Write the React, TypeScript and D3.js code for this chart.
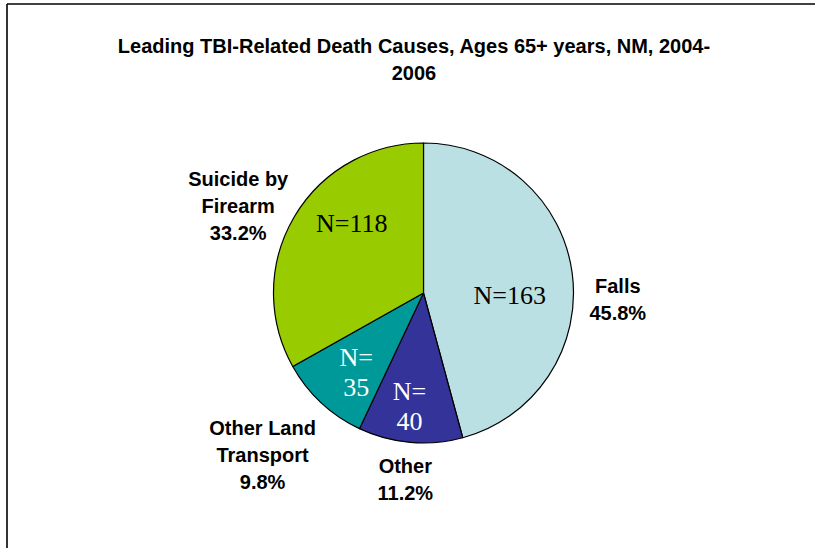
import React, { useRef, useEffect } from "react";
import * as d3 from "d3";

// chart data
const categories = ["Falls", "Other", "Other Land Transport", "Suicide by Firearm"];
const counts = [163, 40, 35, 118];
const percentLabels = ["45.8%", "11.2%", "9.8%", "33.2%"];
const outerLines = [["Falls"], ["Other"], ["Other Land", "Transport"], ["Suicide by", "Firearm"]];
const innerLines = [["N=163"], ["N=", "40"], ["N=", "35"], ["N=118"]];
const titleLines = ["Leading TBI-Related Death Causes, Ages 65+ years, NM, 2004-", "2006"];

const colors = ["#BBE0E3", "#333399", "#009999", "#99CC00"];
const innerTextColors = ["#000000", "#ffffff", "#ffffff", "#000000"];

// label placement tweaks (excel doesn't put them exactly on the centroid)
const innerNudge = [[-3, 14], [-6, 24], [-6, 14], [6, -24]];
const outerNudge = [[1, 32], [-1, -8], [-28, 19], [-17, 11]];

const W = 815;
const H = 548;

const App = () => {
  const ref = useRef<HTMLDivElement>(null);

  useEffect(() => {
    const root = d3.select(ref.current);
    root.select("svg").remove();

    const svg = root
      .append("svg")
      .attr("width", W)
      .attr("height", H)
      .style("position", "absolute")
      .style("left", "0px")
      .style("top", "0px")
      .style("background", "#ffffff");

    // frame (only top + left visible in the crop)
    svg.append("line").attr("x1", 7).attr("x2", W).attr("y1", 4).attr("y2", 4)
      .attr("stroke", "#000").attr("stroke-width", 1.6);
    svg.append("line").attr("x1", 7).attr("x2", 7).attr("y1", 4).attr("y2", H)
      .attr("stroke", "#000").attr("stroke-width", 1.6);

    const title = svg
      .append("text")
      .attr("text-anchor", "middle")
      .attr("font-family", "Liberation Sans, Arial, sans-serif")
      .attr("font-weight", "bold")
      .attr("font-size", 20)
      .attr("fill", "#000");
    titleLines.forEach((t, i) => {
      title.append("tspan").attr("x", 414).attr("y", 53 + i * 27).text(t);
    });

    const cx = 423.5;
    const cy = 293;
    const radius = 150;

    const g = svg.append("g").attr("transform", `translate(${cx},${cy})`);

    const pie = d3.pie<number>().sort(null).value((d) => d);
    const arcs = pie(counts);

    const arc = d3.arc<d3.PieArcDatum<number>>().innerRadius(0).outerRadius(radius);
    const innerArc = d3.arc<d3.PieArcDatum<number>>().innerRadius(radius * 0.6).outerRadius(radius * 0.6);
    const outerArc = d3.arc<d3.PieArcDatum<number>>().innerRadius(radius * 1.3).outerRadius(radius * 1.3);

    g.selectAll("path.slice")
      .data(arcs)
      .enter()
      .append("path")
      .attr("class", "slice")
      .attr("d", arc)
      .attr("fill", (d, i) => colors[i])
      .attr("stroke", "#000")
      .attr("stroke-width", 1.2)
      .attr("stroke-linejoin", "round");

    // N= labels inside
    const innerSize = 26;
    const innerLH = 30;
    const innerCap = innerSize * 0.662;
    arcs.forEach((d, i) => {
      const [x, y] = innerArc.centroid(d);
      const lines = innerLines[i];
      const px = x + innerNudge[i][0];
      const py = y + innerNudge[i][1];
      const firstBase = py - ((lines.length - 1) * innerLH + innerCap) / 2 + innerCap;
      const t = g
        .append("text")
        .attr("text-anchor", "middle")
        .attr("font-family", "Liberation Serif, Times New Roman, serif")
        .attr("font-size", innerSize)
        .attr("fill", innerTextColors[i]);
      lines.forEach((l, j) => {
        t.append("tspan").attr("x", px).attr("y", firstBase + j * innerLH).text(l);
      });
    });

    // category + percent labels outside
    const outSize = 20;
    const outLH = 27;
    const outCap = outSize * 0.716;
    arcs.forEach((d, i) => {
      const [x, y] = outerArc.centroid(d);
      const lines = [...outerLines[i], percentLabels[i]];
      const px = x + outerNudge[i][0];
      const py = y + outerNudge[i][1];
      const firstBase = py - ((lines.length - 1) * outLH + outCap) / 2 + outCap;
      const t = g
        .append("text")
        .attr("text-anchor", "middle")
        .attr("font-family", "Liberation Sans, Arial, sans-serif")
        .attr("font-weight", "bold")
        .attr("font-size", outSize)
        .attr("fill", "#000");
      lines.forEach((l, j) => {
        t.append("tspan").attr("x", px).attr("y", firstBase + j * outLH).text(l);
      });
    });
  }, []);

  return <div ref={ref}></div>;
};

export default App;
